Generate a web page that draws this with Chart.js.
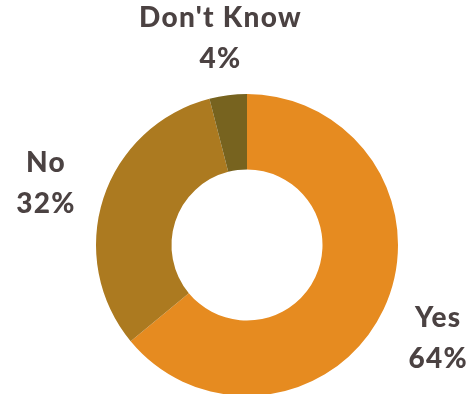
<!DOCTYPE html>
<html>
<head>
<meta charset="utf-8">
<style>
  html, body { margin: 0; padding: 0; background: #ffffff; overflow: hidden; }
  #wrap { position: relative; width: 474px; height: 420px; }
</style>
<script src="https://cdn.jsdelivr.net/npm/chart.js@4/dist/chart.umd.min.js"></script>
</head>
<body>
<div id="wrap"><canvas id="chart" width="474" height="420"></canvas></div>
<script>
// Survey answers and their shares (percent)
const categories = ['Yes', 'No', "Don't Know"];
const shares = [64, 32, 4];
const sliceColors = ['#E68B20', '#AC7A20', '#77631F'];

// Draws "Name / NN%" outside each slice, along the slice's middle angle
const outsideLabels = {
  id: 'outsideLabels',
  afterDatasetsDraw(chart) {
    const ctx = chart.ctx;
    const meta = chart.getDatasetMeta(0);
    ctx.save();
    ctx.fillStyle = '#4B4242';
    ctx.font = '900 28px Lato';
    ctx.letterSpacing = '1.3px';
    ctx.textAlign = 'center';
    ctx.textBaseline = 'alphabetic';
    meta.data.forEach((arc, i) => {
      const p = arc.getProps(['x', 'y', 'startAngle', 'endAngle', 'outerRadius'], true);
      const mid = (p.startAngle + p.endAngle) / 2;
      const r = p.outerRadius * 1.4;
      const cx = p.x + Math.cos(mid) * r;
      const cy = p.y + Math.sin(mid) * r;
      ctx.fillText(categories[i], cx, cy - 8);
      ctx.fillText(shares[i] + '%', cx, cy + 33);
    });
    ctx.restore();
  }
};

new Chart(document.getElementById('chart'), {
  type: 'doughnut',
  data: {
    labels: categories,
    datasets: [{
      data: shares,
      backgroundColor: sliceColors,
      borderWidth: 0
    }]
  },
  options: {
    responsive: false,
    animation: false,
    cutout: '50%',
    layout: { padding: { left: 96, right: 76, top: 94, bottom: 24 } },
    plugins: {
      legend: { display: false },
      tooltip: { enabled: false }
    }
  },
  plugins: [outsideLabels]
});
</script>
</body>
</html>
